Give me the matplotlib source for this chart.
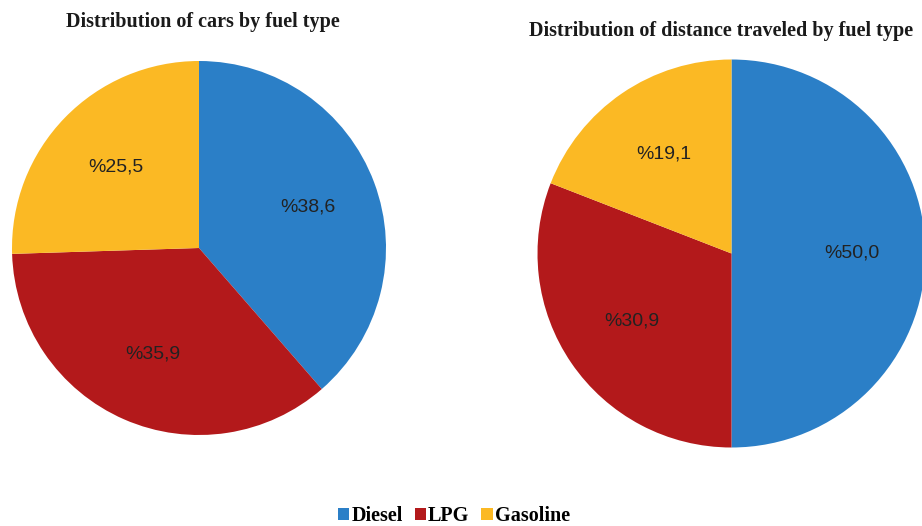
import matplotlib.pyplot as plt

fuel_types = ['Diesel', 'LPG', 'Gasoline']
cars_share = [38.6, 35.9, 25.5]
distance_share = [50.0, 30.9, 19.1]
colors = ['#2b7fc7', '#b3191b', '#fbb924']

plt.rcParams['font.family'] = ['Liberation Sans', 'DejaVu Sans']

W, H = 922, 526
fig = plt.figure(figsize=(W / 100, H / 100), dpi=100)


def pct_label(v):
    return '%' + ('%.1f' % v).replace('.', ',')


def draw_pie(cx, cy, r, values):
    # cx, cy, r in pixels (cy measured from top)
    ax = fig.add_axes([(cx - r) / W, (H - cy - r) / H, 2 * r / W, 2 * r / H])
    wedges, texts, autotexts = ax.pie(
        values, colors=colors, startangle=90, counterclock=False,
        autopct=pct_label, pctdistance=0.62,
        wedgeprops=dict(linewidth=0),
        textprops=dict(fontsize=14, color='#222222'))
    ax.set_xlim(-1, 1)
    ax.set_ylim(-1, 1)
    ax.set_aspect('equal')
    ax.axis('off')
    return wedges


wedges = draw_pie(199, 248, 187, cars_share)
draw_pie(731.5, 253.5, 194, distance_share)

title_font = dict(family='Liberation Serif', weight='bold', fontsize=14.5, color='#1a1a1a')
fig.text(203 / W, 1 - 22 / H, 'Distribution of cars by fuel type',
         ha='center', va='center', **title_font)
fig.text(721 / W, 1 - 31 / H, 'Distribution of distance traveled by fuel type',
         ha='center', va='center', **title_font)

fig.legend(wedges, fuel_types, loc='center', bbox_to_anchor=(454 / W, 1 - 516 / H),
           ncol=3, frameon=False, handlelength=0.55, handleheight=0.55,
           handletextpad=0.1, columnspacing=0.6,
           prop=dict(family='Liberation Serif', weight='bold', size=14.5))

fig.savefig('out.png', dpi=100)
